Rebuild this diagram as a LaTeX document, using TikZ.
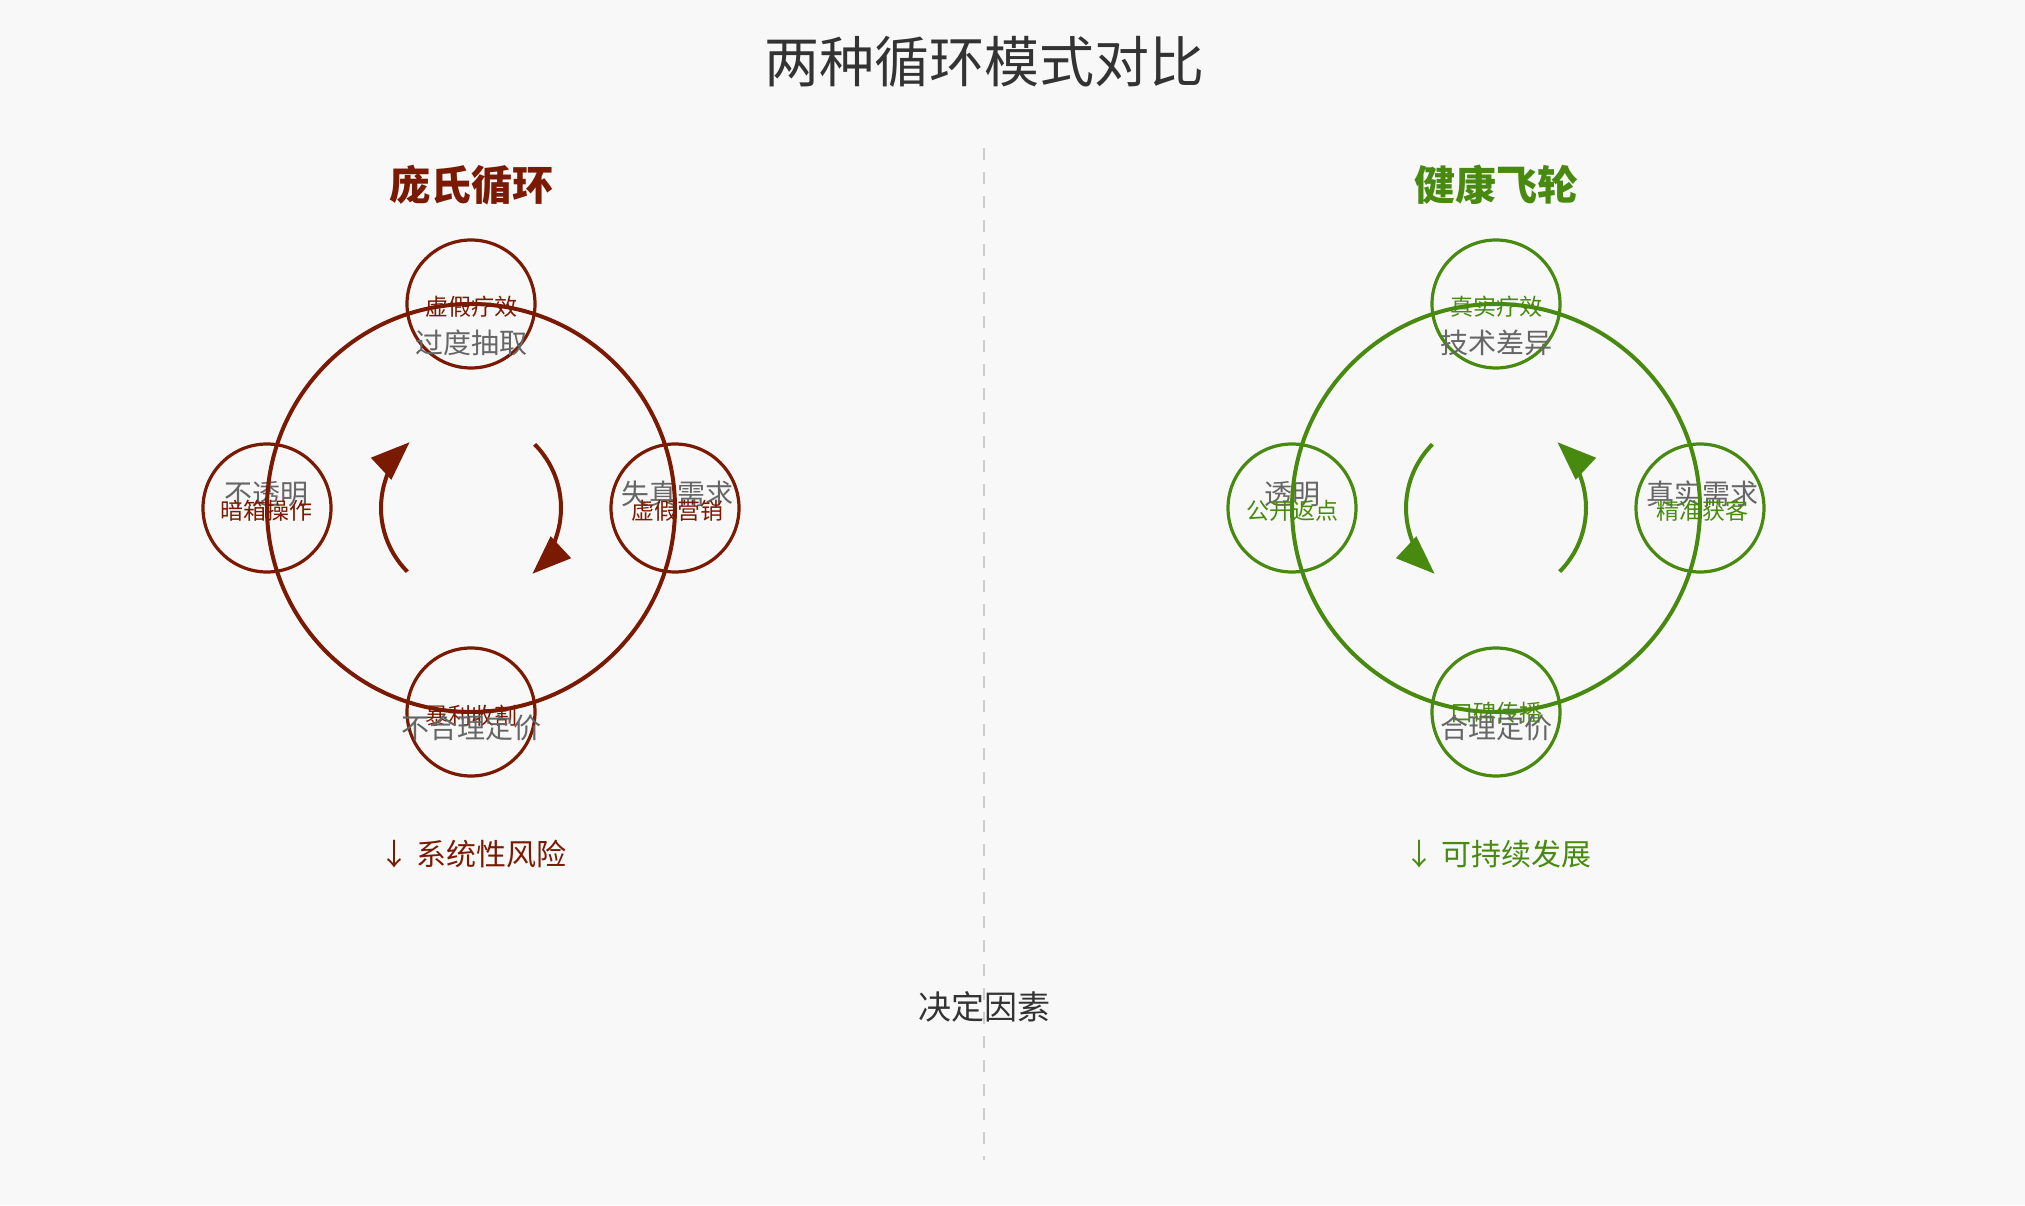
\documentclass[tikz,border=0pt]{standalone}
\usepackage{fontspec}
\setmainfont{Noto Sans CJK SC}
\usetikzlibrary{arrows.meta}

\definecolor{bg}{HTML}{F8F8F8}
\definecolor{ponzi}{HTML}{7B1A02}
\definecolor{healthy}{HTML}{488A10}
\definecolor{note}{HTML}{666666}
\definecolor{ink}{HTML}{333333}
\definecolor{divider}{HTML}{CCCCCC}

\tikzset{
  bigring/.style={circle, draw, line width=4pt, minimum size=408pt, inner sep=0pt},
  smallring/.style={circle, draw, line width=3.2pt, minimum size=128pt, inner sep=0pt},
  tagtext/.style={inner sep=0pt, font=\fontsize{23}{25}\selectfont},
  graytext/.style={inner sep=0pt, text=note, font=\fontsize{28}{30}\selectfont},
  spin/.style={line width=4pt, -{Triangle[length=39pt, width=29pt]}},
  heading/.style={inner sep=0pt, font=\fontsize{41}{44}\selectfont\bfseries},
  outcome/.style={inner sep=0pt, font=\fontsize{30}{32}\selectfont},
}

\begin{document}
\begin{tikzpicture}[x=1pt, y=1pt]
  % canvas
  \fill[bg] (0,0) rectangle (2025,1205);
  \useasboundingbox (0,0) rectangle (2025,1205);

  % title and divider
  \node[inner sep=0pt, text=ink, font=\fontsize{55}{58}\selectfont] (title) at (984,1143) {两种循环模式对比};
  \coordinate (divtop) at (984,1057);
  \coordinate (divbot) at (984,45);
  \draw[divider, line width=2pt, dash pattern=on 12pt off 12pt] (divtop) -- (divbot);
  \node[inner sep=0pt, text=ink, font=\fontsize{33}{35}\selectfont] (factor) at (984,198) {决定因素};

  % ---------- Ponzi cycle ----------
  \begin{scope}[color=ponzi]
    \node[heading, text=ponzi] (ptitle) at (471,1020) {庞氏循环};

    \node[smallring] (pN) at (471,901) {};
    \node[smallring] (pE) at (675,697) {};
    \node[smallring] (pS) at (471,493) {};
    \node[smallring] (pW) at (267,697) {};

    \node[tagtext, text=ponzi] (pNt) at (471,898) {虚假疗效};
    \node[graytext] (pNg) at (471,862) {过度抽取};
    \node[graytext] (pEg) at (677,711) {失真需求};
    \node[tagtext, text=ponzi] (pEt) at (677,694) {虚假营销};
    \node[graytext] (pWg) at (266,711) {不透明};
    \node[tagtext, text=ponzi] (pWt) at (266,694) {暗箱操作};
    \node[tagtext, text=ponzi] (pSt) at (471,489) {暴利收割};
    \node[graytext] (pSg) at (471,477) {不合理定价};

    \node[bigring] (pC) at (471,697) {};

    % clockwise rotation arrows
    \draw[spin] ([shift={(225:90)}]pC.center) arc[start angle=225, end angle=133, radius=90];
    \draw[spin] ([shift={(45:90)}]pC.center) arc[start angle=45, end angle=-47, radius=90];

    \node[outcome, text=ponzi] (pOut) at (473,351) {↓ 系统性风险};
  \end{scope}

  % ---------- Healthy flywheel ----------
  \begin{scope}[color=healthy]
    \node[heading, text=healthy] (htitle) at (1496,1020) {健康飞轮};

    \node[smallring] (hN) at (1496,901) {};
    \node[smallring] (hE) at (1700,697) {};
    \node[smallring] (hS) at (1496,493) {};
    \node[smallring] (hW) at (1292,697) {};

    \node[tagtext, text=healthy] (hNt) at (1496,898) {真实疗效};
    \node[graytext] (hNg) at (1496,862) {技术差异};
    \node[graytext] (hEg) at (1702,711) {真实需求};
    \node[tagtext, text=healthy] (hEt) at (1702,694) {精准获客};
    \node[graytext] (hWg) at (1292,711) {透明};
    \node[tagtext, text=healthy] (hWt) at (1292,694) {公开返点};
    \node[tagtext, text=healthy] (hSt) at (1496,492) {口碑传播};
    \node[graytext] (hSg) at (1496,477) {合理定价};

    \node[bigring] (hC) at (1496,697) {};

    % counter-clockwise rotation arrows
    \draw[spin] ([shift={(135:90)}]hC.center) arc[start angle=135, end angle=227, radius=90];
    \draw[spin] ([shift={(-45:90)}]hC.center) arc[start angle=-45, end angle=47, radius=90];

    \node[outcome, text=healthy] (hOut) at (1498,351) {↓ 可持续发展};
  \end{scope}
\end{tikzpicture}
\end{document}
